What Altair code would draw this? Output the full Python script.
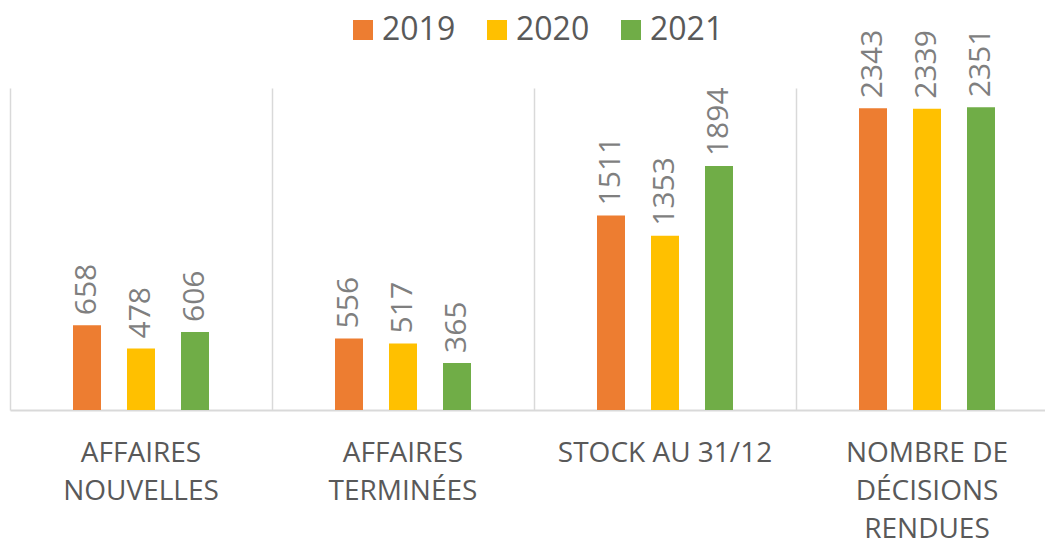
import altair as alt
import pandas as pd

categories = ["AFFAIRES|NOUVELLES", "AFFAIRES|TERMINÉES", "STOCK AU 31/12", "NOMBRE DE|DÉCISIONS|RENDUES"]
years = ["2019", "2020", "2021"]
values_2019 = [658, 556, 1511, 2343]
values_2020 = [478, 517, 1353, 2339]
values_2021 = [606, 365, 1894, 2351]
colors = ["#ED7D31", "#FFC000", "#70AD47"]

rows = []
for yr, vals in zip(years, [values_2019, values_2020, values_2021]):
    for c, v in zip(categories, vals):
        rows.append({"cat": c, "year": yr, "value": v})
df = pd.DataFrame(rows)

FONT = "Open Sans"

x = alt.X("cat:N", sort=categories, title=None,
          scale=alt.Scale(paddingInner=0, paddingOuter=0),
          axis=alt.Axis(labelAngle=0, ticks=False, grid=True, bandPosition=0,
                        gridColor="#D9D9D9", gridWidth=1.5,
                        domainColor="#D9D9D9", domainWidth=2,
                        labelFont=FONT, labelFontSize=28, labelColor="#595959",
                        labelPadding=29, labelLineHeight=38, labelLimit=400,
                        labelExpr="split(datum.label, '|')"))
xo = alt.XOffset("year:N", sort=years,
                 scale=alt.Scale(range=[63, 199], paddingInner=0.4815, paddingOuter=0))
y = alt.Y("value:Q", scale=alt.Scale(domain=[0, 2500]), axis=None)

bars = alt.Chart(df).mark_bar().encode(
    x=x, xOffset=xo, y=y,
    color=alt.Color("year:N", sort=years,
                    scale=alt.Scale(domain=years, range=colors),
                    legend=alt.Legend(title=None, orient="none", direction="horizontal",
                                      legendX=333, legendY=-78,
                                      symbolType="square", symbolSize=400,
                                      symbolStrokeWidth=0, symbolOpacity=1,
                                      labelFont=FONT, labelFontSize=32,
                                      labelColor="#595959", labelOffset=3,
                                      columnPadding=25, padding=4)),
)

labels = alt.Chart(df).mark_text(angle=270, align="left", baseline="middle", dx=10,
                                 font=FONT, fontSize=30, color="#7F7F7F").encode(
    x=x, xOffset=xo, y=y, text="value:Q"
)

chart = (bars + labels).properties(
    width=1048, height=322,
    padding={"left": 2, "top": 80, "right": -13, "bottom": 135},
    autosize=alt.AutoSizeParams(type="none"),
).configure_view(stroke=None)

chart.save("out.html", embed_options={"renderer": "svg", "actions": False})
